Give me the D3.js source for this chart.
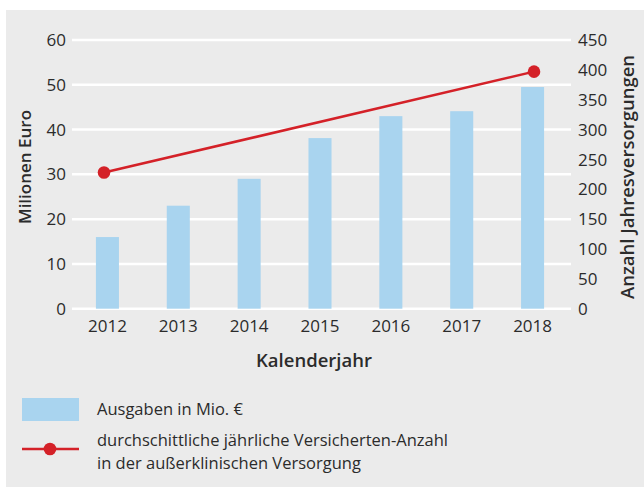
<!DOCTYPE html>
<html>
<head>
<meta charset="utf-8">
<script src="https://cdn.jsdelivr.net/npm/d3@7"></script>
<style>
	body { margin: 0; background: #fff; }
	svg text { font-family: "Open Sans", sans-serif; fill: #2b2b2b; }
	.tick-label { font-size: 17px; }
	.axis-title { font-size: 17px; font-weight: 600; }
	.legend-label { font-size: 16.5px; }
</style>
</head>
<body>
<div id="chart"></div>
<script>
// data
const years = [2012, 2013, 2014, 2015, 2016, 2017, 2018];
const ausgaben = [16, 23, 29, 38.1, 43, 44.1, 49.5];
const lineYears = [2012, 2018];
const versicherte = [228, 397];
const leftTicks = [0, 10, 20, 30, 40, 50, 60];
const rightTicks = [0, 50, 100, 150, 200, 250, 300, 350, 400, 450];
const legendLabels = ['Ausgaben in Mio. €', 'durchschittliche jährliche Versicherten-Anzahl', 'in der außerklinischen Versorgung'];

const width = 644;
const height = 487;

// colours
const colBg = '#ebebeb';
const colBar = '#a9d4ef';
const colRed = '#d42128';

const $svg = d3.select('#chart').append('svg')
	.attr('width', width)
	.attr('height', height);

$svg.append('rect')
	.attr('x', 6).attr('y', 10)
	.attr('width', width - 6).attr('height', height - 10)
	.attr('fill', colBg);

// scales
const scaleX = d3.scaleBand()
	.domain(years)
	.range([72, 568])
	.paddingInner(0.675)
	.paddingOuter(0.3375);

const lineX = d3.scaleLinear()
	.domain(d3.extent(lineYears))
	.range([104, 534]);

const scaleY = d3.scaleLinear().domain([0, 60]).range([308.7, 40]);
const scaleY2 = d3.scaleLinear().domain([0, 450]).range([308.7, 40]);

// gridlines
$svg.append('g')
	.selectAll('line')
	.data(leftTicks)
	.join('line')
	.attr('x1', 72).attr('x2', 571)
	.attr('y1', d => scaleY(d)).attr('y2', d => scaleY(d))
	.attr('stroke', '#fff')
	.attr('stroke-width', 2.5);

// left axis labels
$svg.append('g')
	.selectAll('text')
	.data(leftTicks)
	.join('text')
	.attr('class', 'tick-label')
	.attr('x', 66)
	.attr('y', d => scaleY(d))
	.attr('dy', '0.36em')
	.attr('text-anchor', 'end')
	.text(d => d);

// right axis labels
$svg.append('g')
	.selectAll('text')
	.data(rightTicks)
	.join('text')
	.attr('class', 'tick-label')
	.attr('x', 578)
	.attr('y', d => scaleY2(d))
	.attr('dy', '0.36em')
	.attr('text-anchor', 'start')
	.text(d => d);

// x labels
$svg.append('g')
	.selectAll('text')
	.data(years)
	.join('text')
	.attr('class', 'tick-label')
	.attr('x', d => scaleX(d) + scaleX.bandwidth() / 2)
	.attr('y', 332)
	.attr('text-anchor', 'middle')
	.text(d => d);

// bars
$svg.append('g')
	.selectAll('rect')
	.data(years)
	.join('rect')
	.attr('x', d => scaleX(d))
	.attr('width', scaleX.bandwidth())
	.attr('y', (d, i) => scaleY(ausgaben[i]))
	.attr('height', (d, i) => scaleY(0) - scaleY(ausgaben[i]))
	.attr('fill', colBar);

// line
const lineData = lineYears.map((y, i) => ({ year: y, value: versicherte[i] }));
const line = d3.line()
	.x(d => lineX(d.year))
	.y(d => scaleY2(d.value));

$svg.append('path')
	.datum(lineData)
	.attr('d', line)
	.attr('fill', 'none')
	.attr('stroke', colRed)
	.attr('stroke-width', 2.5);

$svg.append('g')
	.selectAll('circle')
	.data(lineData)
	.join('circle')
	.attr('cx', d => lineX(d.year))
	.attr('cy', d => scaleY2(d.value))
	.attr('r', 6.3)
	.attr('fill', colRed);

// axis titles
$svg.append('text')
	.attr('class', 'axis-title')
	.attr('transform', 'translate(30.5, 167) rotate(-90)')
	.attr('text-anchor', 'middle')
	.text('Milionen Euro');

$svg.append('text')
	.attr('class', 'axis-title')
	.style('font-size', '18.5px')
	.attr('transform', 'translate(634, 177) rotate(-90)')
	.attr('text-anchor', 'middle')
	.text('Anzahl Jahresversorgungen');

$svg.append('text')
	.attr('class', 'axis-title')
	.style('font-size', '18.5px')
	.attr('x', 314)
	.attr('y', 367)
	.attr('text-anchor', 'middle')
	.text('Kalenderjahr');

// legend
const $legend = $svg.append('g');
$legend.append('rect')
	.attr('x', 22).attr('y', 398)
	.attr('width', 57).attr('height', 23)
	.attr('fill', colBar);

$legend.append('line')
	.attr('x1', 22).attr('x2', 79)
	.attr('y1', 449).attr('y2', 449)
	.attr('stroke', colRed)
	.attr('stroke-width', 2.5);

$legend.append('circle')
	.attr('cx', 50).attr('cy', 449)
	.attr('r', 6.3)
	.attr('fill', colRed);

$legend.selectAll('text.legend-label')
	.data(legendLabels)
	.join('text')
	.attr('class', 'legend-label')
	.attr('x', 97)
	.attr('y', (d, i) => [415, 446, 469][i])
	.text(d => d);
</script>
</body>
</html>
